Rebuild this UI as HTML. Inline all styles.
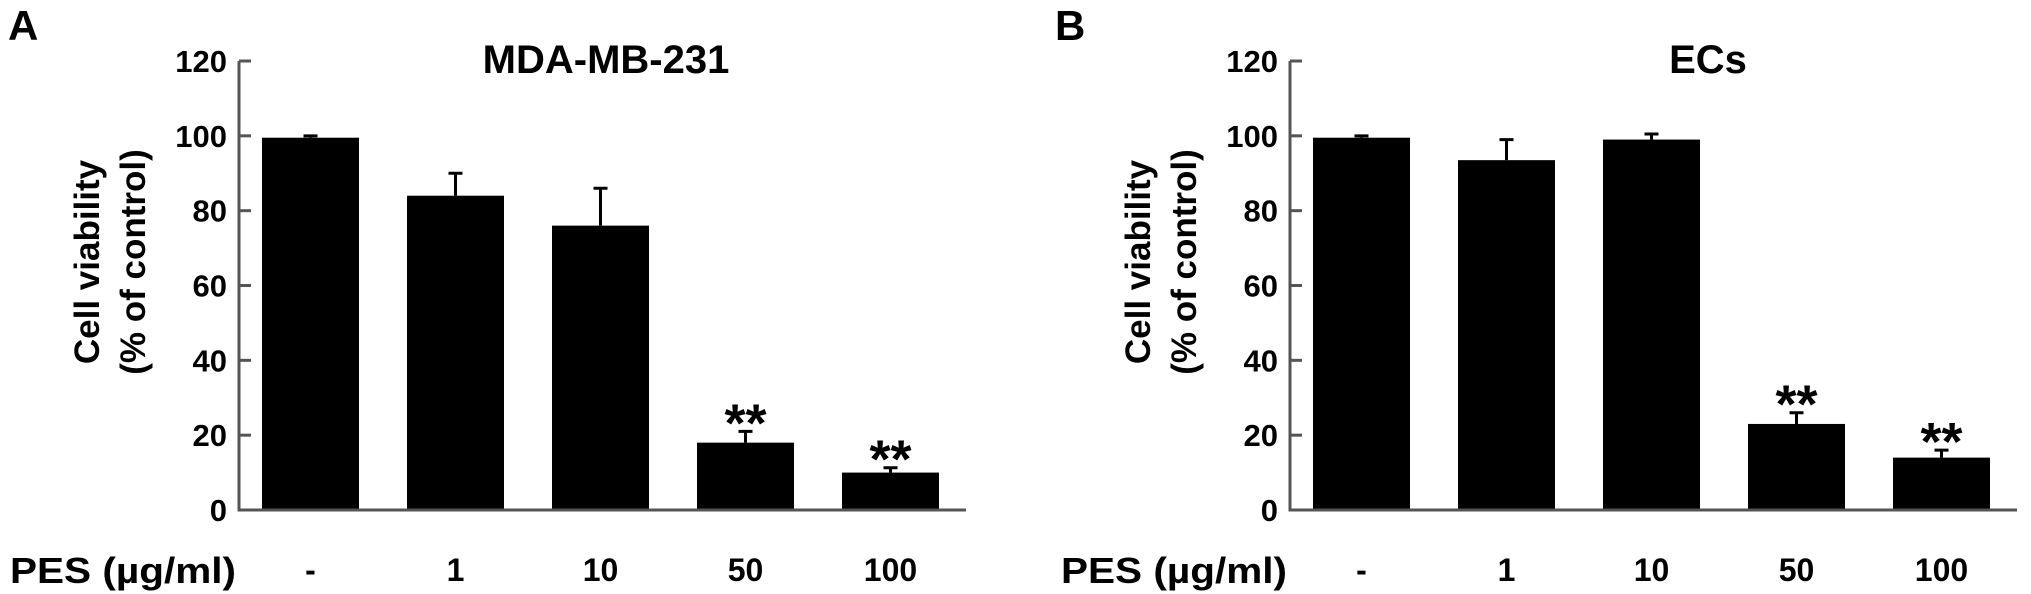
<!DOCTYPE html>
<html><head><meta charset="utf-8"><style>
html,body{margin:0;padding:0;background:#fff;}
svg{display:block;font-family:"Liberation Sans",Arial,sans-serif;font-weight:bold;}
</style></head><body>
<svg id="fig" width="2031" height="594" viewBox="0 0 2031 594" xmlns="http://www.w3.org/2000/svg"></svg>
<script>
const categories = ["-", "1", "10", "50", "100"];
const valuesA = [99.5, 84, 76, 18, 10];
const errorsA = [0.5, 6, 10, 3, 1.3];
const sigA = ["", "", "", "**", "**"];
const valuesB = [99.5, 93.5, 99, 23, 14];
const errorsB = [0.5, 5.5, 1.5, 3, 2];
const sigB = ["", "", "", "**", "**"];
const yTicks = [0, 20, 40, 60, 80, 100, 120];

const NS = "http://www.w3.org/2000/svg";
const svg = document.getElementById("fig");
function mk(tag, attrs, parent) {
  const e = document.createElementNS(NS, tag);
  for (const k in attrs) e.setAttribute(k, attrs[k]);
  (parent || svg).appendChild(e);
  return e;
}
const Y0 = 510, Ymax = 61;
function yScale(v) { return Y0 - (v / 120) * (Y0 - Ymax); }

function panel(opts) {
  const g = mk("g", {});
  
  
  const ax = opts.axisX;
  const xScale = i => ax + 23 + i * 145;
  const bw = 97;
  opts.values.forEach((v, i) => {
    const x = xScale(i);
    const r = mk("rect", {x: x, y: yScale(v), width: bw, height: Y0 - yScale(v), fill: "#000"}, g);
    
    
    const cx = x + bw / 2;
    const et = yScale(v + opts.errors[i]);
    const eb = mk("path", {d: `M${cx} ${yScale(v)} V${et} M${cx - 7} ${et} H${cx + 7}`, stroke: "#000", "stroke-width": 3, fill: "none"}, g);
    
    
    if (opts.sig[i]) {
      const s = mk("text", {x: cx, y: et + 10, "text-anchor": "middle", "font-size": 54, fill: "#000"}, g);
      s.textContent = opts.sig[i];
      
      
    }
    const lab = mk("text", {x: cx, y: 581, "text-anchor": "middle", "font-size": 32, fill: "#000"}, g);
    lab.textContent = categories[i];
    
    
  });
  const axis = mk("path", {d: `M${ax} ${Ymax} V${Y0} H${ax + 727}`, stroke: "#555", "stroke-width": 3, fill: "none"}, g);
  
  
  yTicks.forEach(t => {
    const y = yScale(t);
    if (t > 0) {
      const tk = mk("line", {x1: ax, x2: ax + 12, y1: y, y2: y, stroke: "#555", "stroke-width": 3}, g);
      
      
    }
    const tl = mk("text", {x: ax - 12, y: y + 11, "text-anchor": "end", "font-size": 31, fill: "#000"}, g);
    tl.textContent = t;
    
    
  });
  const yt = mk("text", {transform: `translate(${ax - 140},262) rotate(-90)`, "text-anchor": "middle", "font-size": 35, fill: "#000"}, g);
  
  
  const t1 = mk("tspan", {x: 0, y: 0}, yt); t1.textContent = "Cell viability";
  const t2 = mk("tspan", {x: 0, y: 46}, yt); t2.textContent = "(% of control)";
  const ti = mk("text", {x: opts.titleX, y: 73, "text-anchor": "middle", "font-size": 40, fill: "#000"}, g);
  ti.textContent = opts.title;
  
  
  const pl = mk("text", {x: opts.letterX, y: 40, "font-size": 42, fill: "#000"}, g);
  pl.textContent = opts.letter;
  
  
  const xt = mk("text", {x: ax - 229, y: 583, "font-size": 36, fill: "#000", textLength: 226, lengthAdjust: "spacingAndGlyphs"}, g);
  xt.textContent = "PES (\u00b5g/ml)";
  
  
}
panel({name: "panel-a", axisX: 239, values: valuesA, errors: errorsA, sig: sigA, title: "MDA-MB-231", titleX: 606, letter: "A", letterX: 8});
panel({name: "panel-b", axisX: 1290, values: valuesB, errors: errorsB, sig: sigB, title: "ECs", titleX: 1708, letter: "B", letterX: 1055});
</script>
</body></html>
